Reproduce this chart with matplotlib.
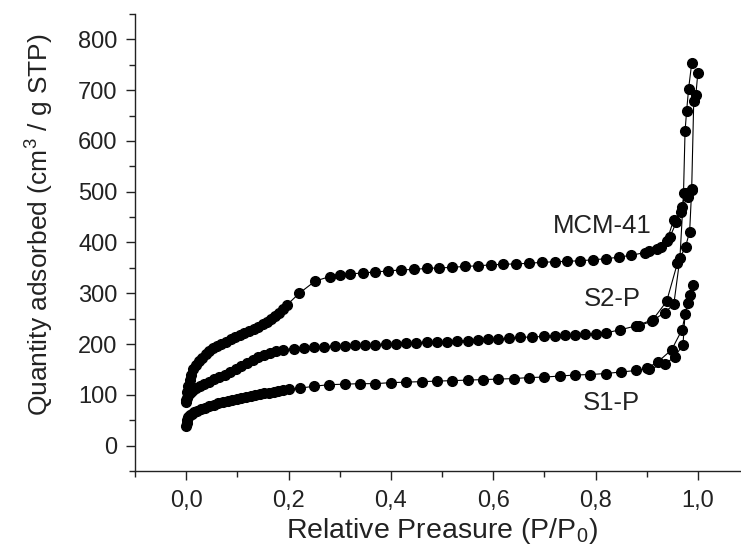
import matplotlib
matplotlib.use("Agg")
import matplotlib.pyplot as plt
from matplotlib.ticker import MultipleLocator, FuncFormatter

plt.rcParams['font.family'] = ['Liberation Sans', 'DejaVu Sans']
plt.rcParams['mathtext.fontset'] = 'custom'
plt.rcParams['mathtext.rm'] = 'Liberation Sans'

mcm_ads_x = [0.000, 0.002, 0.004, 0.007, 0.010, 0.014, 0.019, 0.025, 0.031, 0.038,
             0.045, 0.053, 0.061, 0.069, 0.078, 0.087, 0.096, 0.105, 0.114, 0.123,
             0.132, 0.141, 0.150, 0.158, 0.166, 0.174, 0.182, 0.190, 0.197, 0.221,
             0.252, 0.281, 0.300, 0.320, 0.345, 0.370, 0.395, 0.420, 0.445, 0.470,
             0.495, 0.520, 0.545, 0.570, 0.595, 0.620, 0.645, 0.670, 0.695, 0.720,
             0.745, 0.770, 0.795, 0.820, 0.845, 0.870, 0.896, 0.920, 0.939, 0.953,
             0.967, 0.975, 0.988]
mcm_ads_y = [90, 105, 118, 130, 140, 150, 158, 166, 173, 180,
             186, 192, 197, 201, 205, 209, 213, 217, 221, 225,
             229, 234, 239, 244, 250, 256, 262, 269, 277, 300,
             324, 333, 336, 338, 340, 342, 344, 346, 347, 349,
             350, 351, 353, 354, 356, 357, 358, 359, 361, 362,
             363, 364, 366, 368, 371, 375, 380, 388, 402, 445,
             461, 497, 504]
mcm_des_x = [0.980, 0.970, 0.958, 0.945, 0.928, 0.905]
mcm_des_y = [490, 470, 440, 410, 392, 383]

s2_ads_x = [0.000, 0.002, 0.005, 0.009, 0.014, 0.020, 0.027, 0.035, 0.044, 0.054,
            0.064, 0.075, 0.086, 0.097, 0.108, 0.119, 0.130, 0.141, 0.152, 0.163,
            0.175, 0.190, 0.210, 0.230, 0.250, 0.270, 0.290, 0.310, 0.330, 0.350,
            0.370, 0.390, 0.410, 0.430, 0.450, 0.470, 0.490, 0.510, 0.530, 0.550,
            0.570, 0.590, 0.610, 0.630, 0.652, 0.675, 0.700, 0.720, 0.740, 0.760,
            0.780, 0.800, 0.820, 0.848, 0.880, 0.912, 0.939, 0.960, 0.976, 0.984,
            0.988, 0.992, 0.996, 1.000]
s2_ads_y = [85, 94, 101, 106, 110, 113, 117, 121, 126, 131,
            136, 140, 144, 150, 156, 162, 168, 174, 179, 183,
            186, 189, 191, 193, 194, 195, 196, 197, 198, 199,
            199, 200, 201, 202, 203, 204, 204, 205, 206, 207,
            208, 209, 210, 211, 213, 214, 215, 216, 217, 218,
            219, 220, 222, 228, 236, 248, 284, 359, 392, 421,
            506, 678, 690, 733]
s2_des_x = [0.988, 0.982, 0.978, 0.975, 0.972, 0.965, 0.953, 0.935, 0.910, 0.885]
s2_des_y = [753, 703, 658, 619, 497, 369, 278, 262, 245, 236]

s1_ads_x = [0.000, 0.001, 0.002, 0.004, 0.007, 0.011, 0.016, 0.022, 0.029, 0.037,
            0.045, 0.054, 0.063, 0.072, 0.081, 0.090, 0.099, 0.108, 0.117, 0.126,
            0.135, 0.144, 0.153, 0.162, 0.171, 0.180, 0.190, 0.200, 0.222, 0.250,
            0.280, 0.310, 0.340, 0.369, 0.400, 0.430, 0.460, 0.490, 0.520, 0.550,
            0.580, 0.610, 0.640, 0.670, 0.700, 0.730, 0.760, 0.790, 0.820, 0.850,
            0.880, 0.900, 0.922, 0.949, 0.969, 0.980, 0.990]
s1_ads_y = [38, 45, 51, 56, 60, 63, 66, 69, 72, 75,
            78, 80, 83, 85, 87, 89, 91, 93, 95, 97,
            99, 101, 103, 104, 106, 108, 110, 111, 113, 117,
            120, 121, 122, 122, 124, 125, 126, 127, 128, 129,
            130, 131, 132, 134, 135, 137, 139, 140, 142, 145,
            148, 152, 165, 189, 228, 280, 317]
s1_des_x = [0.985, 0.975, 0.971, 0.955, 0.935, 0.905]
s1_des_y = [297, 260, 199, 175, 160, 151]

labels = ["MCM-41", "S2-P", "S1-P"]
label_pos = [(0.8125, 433), (0.832, 288), (0.832, 83)]

# ── Matplotlib ────────────────────────────────────
fig = plt.figure(figsize=(7.41, 5.5), dpi=100)
ax = fig.add_axes([135 / 741, 1 - 471 / 550, 614 / 741, 457 / 550])

for xs, ys in [(mcm_ads_x, mcm_ads_y), (mcm_des_x, mcm_des_y),
               (s2_ads_x, s2_ads_y), (s2_des_x, s2_des_y),
               (s1_ads_x, s1_ads_y), (s1_des_x, s1_des_y)]:
    ax.plot(xs, ys, color="black", linewidth=0.8, marker="o",
            markersize=7, markerfacecolor="black", markeredgecolor="black",
            clip_on=False)

for name, (lx, ly) in zip(labels, label_pos):
    ax.text(lx, ly, name, fontsize=18.5, ha="center", va="center", color="#222222")

ax.set_xlim(-0.1, 1.1)
ax.set_ylim(-50, 850)
ax.xaxis.set_major_locator(MultipleLocator(0.2))
ax.xaxis.set_minor_locator(MultipleLocator(0.1))
ax.yaxis.set_major_locator(MultipleLocator(100))
ax.yaxis.set_minor_locator(MultipleLocator(50))
ax.xaxis.set_major_formatter(FuncFormatter(lambda v, p: f"{v:.1f}".replace(".", ",")))

for s in ("top", "right"):
    ax.spines[s].set_visible(False)
for s in ("left", "bottom"):
    ax.spines[s].set_color("#222222")
    ax.spines[s].set_linewidth(1.0)

ax.tick_params(which="major", direction="out", length=6.5, width=1.0,
               labelsize=17, colors="#222222")
ax.tick_params(which="minor", direction="out", length=4, width=1.0, colors="#222222")
ax.tick_params(axis="x", which="major", pad=7)
ax.tick_params(axis="y", which="major", pad=6)

ax.set_xlabel(r"Relative Preasure (P/P$_0$)", fontsize=20.5, color="#222222",
              labelpad=3)
ax.set_ylabel(r"Quantity adsorbed (cm$^3$ / g STP)", fontsize=19, color="#222222")
ax.yaxis.set_label_coords(-0.13, 0.54)

fig.savefig("out.png", dpi=100)
